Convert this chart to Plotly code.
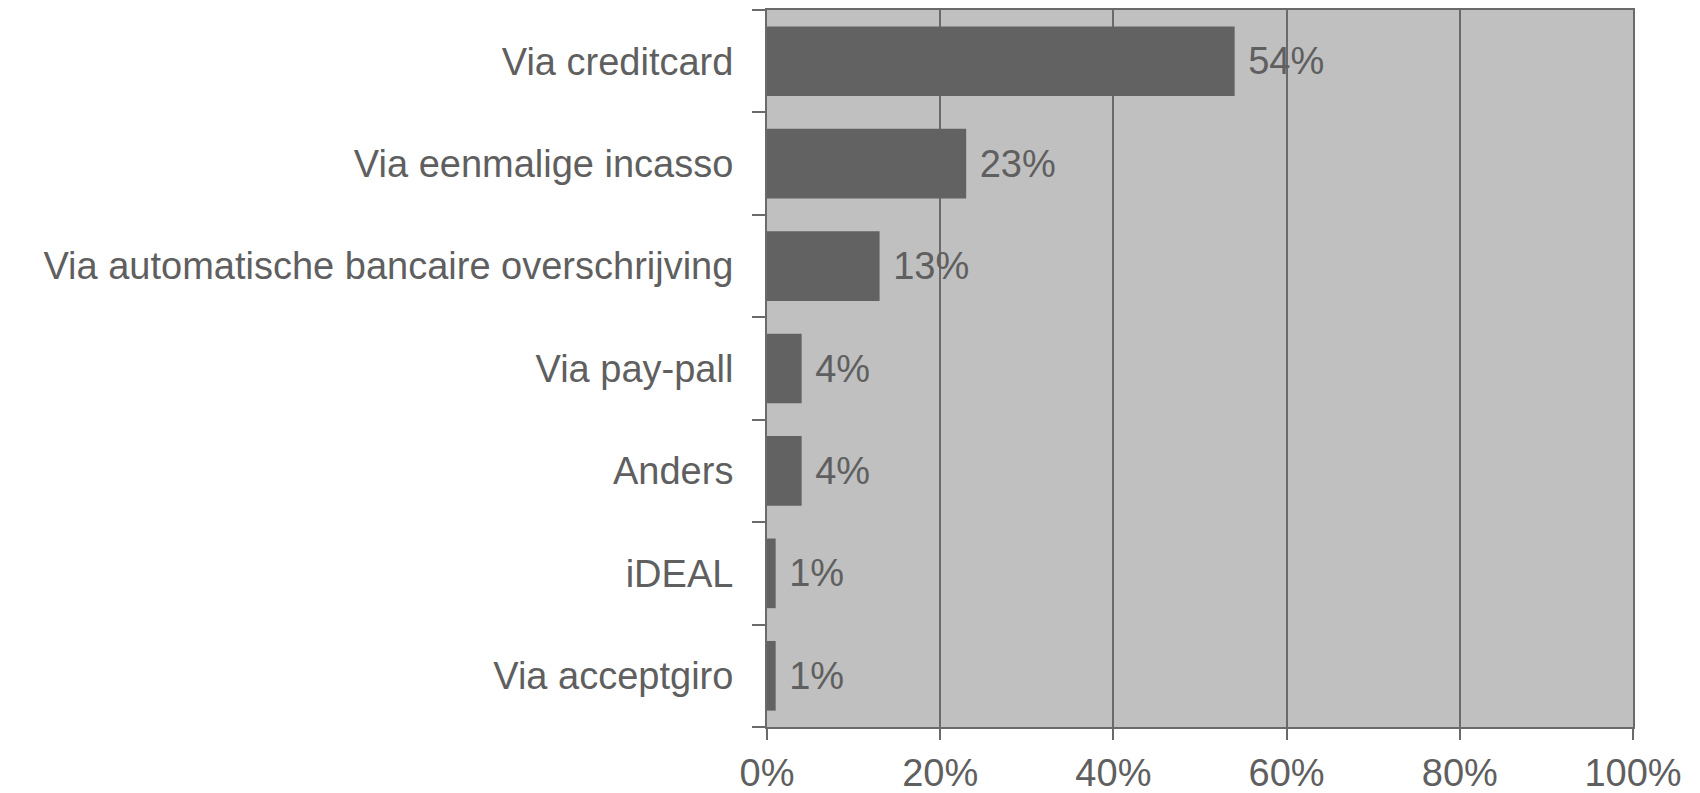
import plotly.graph_objects as go

# Payment methods (top to bottom) and their share of respondents
categories = [
    "Via creditcard",
    "Via eenmalige incasso",
    "Via automatische bancaire overschrijving",
    "Via pay-pall",
    "Anders",
    "iDEAL",
    "Via acceptgiro",
]
shares = [54, 23, 13, 4, 4, 1, 1]
tick_values = [0, 20, 40, 60, 80, 100]
tick_labels = ["0%", "20%", "40%", "60%", "80%", "100%"]

text_color = "#5f5f5f"
line_color = "#6a6a6a"
font_family = "Liberation Sans, Arial, sans-serif"
font_size = 38

fig = go.Figure(
    go.Bar(
        x=shares,
        y=categories,
        orientation="h",
        marker=dict(color="#626262", line=dict(width=0)),
        text=[f" {v}%" for v in shares],
        textposition="outside",
        textfont=dict(family=font_family, size=font_size, color=text_color),
        cliponaxis=False,
    )
)

fig.update_layout(
    width=1700,
    height=793,
    margin=dict(l=767, r=67, t=10, b=66),
    paper_bgcolor="white",
    plot_bgcolor="#c0c0c0",
    bargap=0.32,
    showlegend=False,
    font=dict(family=font_family, size=font_size, color=text_color),
)

fig.update_xaxes(
    range=[0, 100],
    tickvals=tick_values,
    ticktext=tick_labels,
    automargin=False,
    showgrid=True,
    gridcolor=line_color,
    gridwidth=1.5,
    zeroline=False,
    showline=True,
    linecolor=line_color,
    linewidth=2,
    mirror=True,
    ticks="outside",
    ticklen=11,
    tickcolor=line_color,
    tickwidth=1.5,
    ticklabelstandoff=0,
    tickfont=dict(size=font_size, color=text_color),
)

fig.update_yaxes(
    categoryorder="array",
    categoryarray=categories[::-1],
    automargin=False,
    showgrid=False,
    showline=True,
    linecolor=line_color,
    linewidth=2,
    mirror=True,
    ticks="outside",
    tickson="boundaries",
    ticklen=13,
    tickcolor=line_color,
    tickwidth=1.5,
    ticklabelstandoff=24,
    tickfont=dict(size=font_size, color=text_color),
)

fig.write_html("out.html")
